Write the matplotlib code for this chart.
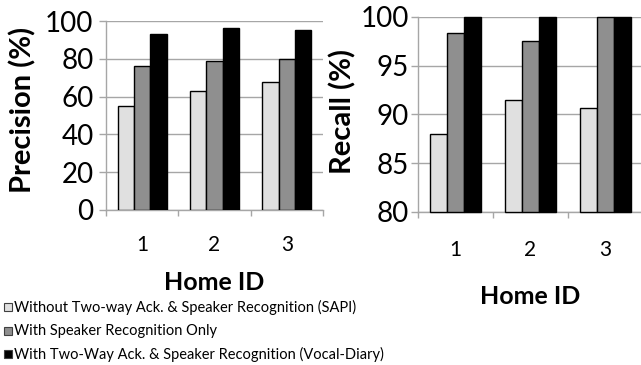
import matplotlib
matplotlib.use("Agg")
import matplotlib.pyplot as plt
import numpy as np
from matplotlib.patches import Rectangle

homes = ["1", "2", "3"]
series_names = [
    "Without Two-way Ack. & Speaker Recognition (SAPI)",
    "With Speaker Recognition Only",
    "With Two-Way Ack. & Speaker Recognition (Vocal-Diary)",
]
precision_sapi = [55.2, 63.0, 67.6]
precision_sr = [76.2, 78.8, 79.9]
precision_vd = [93.3, 96.1, 95.2]
recall_sapi = [88.0, 91.5, 90.7]
recall_sr = [98.4, 97.5, 100.0]
recall_vd = [100.0, 100.0, 100.0]

colors = ["#e0e0e0", "#8f8f8f", "#000000"]
FONT = ["Lato", "DejaVu Sans"]
plt.rcParams['font.family'] = FONT

W, H = 641, 365
fig = plt.figure(figsize=(W / 100, H / 100), dpi=100)

def px_axes(x0, y0, x1, y1):
    return fig.add_axes([x0 / W, (H - y1) / H, (x1 - x0) / W, (y1 - y0) / H])

def fx(x):
    return x / W

def fy(y):
    return (H - y) / H

GRID = "#a6a6a6"

def style(ax, ymin, ymax, step, ylabel, ticklen, ypad, xpad, ylab_xy, xlab_y):
    ax.set_xlim(0.5, 3.5)
    ax.set_ylim(ymin, ymax)
    ax.set_yticks(np.arange(ymin, ymax + 0.01, step))
    ax.yaxis.grid(True, color=GRID, linewidth=1.0)
    ax.set_axisbelow(True)
    for s in ["top", "right"]:
        ax.spines[s].set_visible(False)
    for s in ["left", "bottom"]:
        ax.spines[s].set_color(GRID)
        ax.spines[s].set_linewidth(1.0)
    ax.tick_params(axis="y", length=ticklen, width=1.0, color=GRID,
                   labelsize=20, pad=ypad)
    ax.set_xticks([0.5, 1.5, 2.5, 3.5])
    ax.set_xticklabels([])
    ax.tick_params(axis="x", length=4, width=1.0, color=GRID)
    ax.set_xticks([1, 2, 3], minor=True)
    ax.set_xticklabels(homes, minor=True)
    ax.tick_params(axis="x", which="minor", length=0, labelsize=15, pad=xpad)
    x0, y0, x1, y1 = ax.get_position().extents
    fig.text(fx(ylab_xy[0]), fy(ylab_xy[1]), ylabel, fontsize=21,
             fontweight="bold", rotation=90, ha="center", va="center")
    fig.text((x0 + x1) / 2, fy(xlab_y), "Home ID", fontsize=18,
             fontweight="bold", ha="center", va="center")

def bars(ax, data, bottom):
    x = np.arange(1, 4)
    w = 0.225
    for i, (vals, c) in enumerate(zip(data, colors)):
        ax.bar(x + (i - 1) * w, np.array(vals) - bottom, w, bottom=bottom,
               color=c, edgecolor="black", linewidth=1.0, zorder=3,
               label=series_names[i])

ax1 = px_axes(106, 21, 323, 210)
bars(ax1, [precision_sapi, precision_sr, precision_vd], 0)
style(ax1, 0, 100, 20, "Precision (%)", 5, 4, 18, (23, 110), 282)

ax2 = px_axes(418, 17, 643, 212)
bars(ax2, [recall_sapi, recall_sr, recall_vd], 80)
style(ax2, 80, 100, 5, "Recall (%)", 5, 1.5, 20, (343, 112), 296)
for b in ax2.patches:
    b.set_clip_on(False)

# legend
for i, (name, c) in enumerate(zip(series_names, colors)):
    y = 307 + i * 23.5
    fig.patches.append(Rectangle((fx(4), fy(y + 4)), 8 / W, 8 / H,
                                 transform=fig.transFigure, facecolor=c,
                                 edgecolor="#404040", linewidth=0.8))
    fig.text(fx(14.5), fy(y), name, fontsize=10.5, va="center", ha="left")

fig.savefig("out.png", dpi=100)
